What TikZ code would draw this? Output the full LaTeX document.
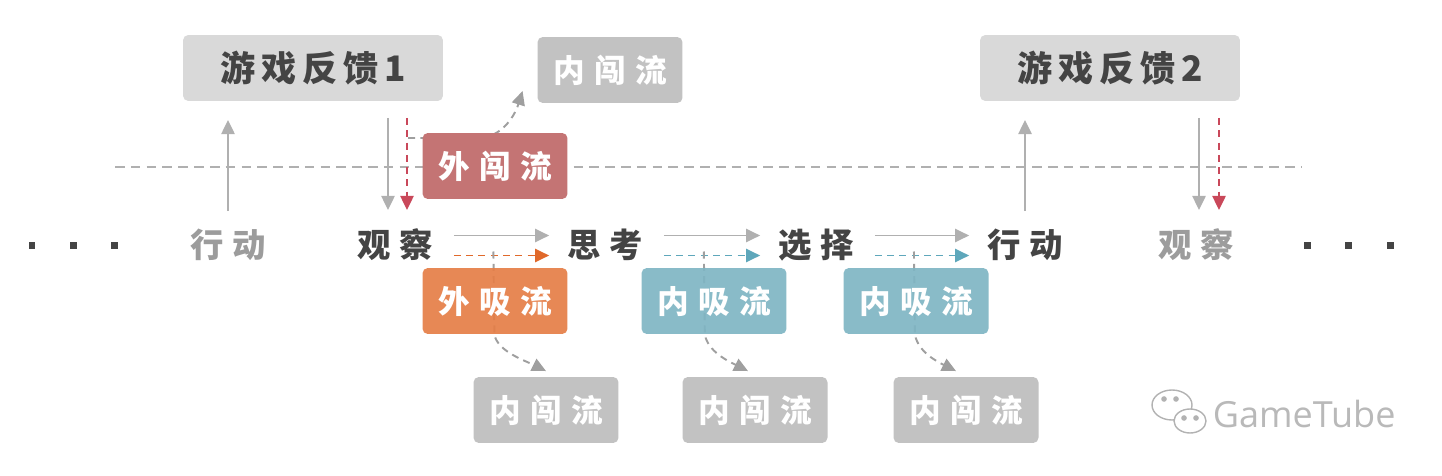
\documentclass[tikz,border=0pt]{standalone}
\usepackage{fontspec}
\usepackage{tikz}
\usetikzlibrary{arrows.meta, positioning, calc}
\newfontfamily\cjk{Noto Sans CJK SC}
\newfontfamily\wmfont{Open Sans}
\definecolor{fbgray}{HTML}{D9D9D9}
\definecolor{chgray}{HTML}{C2C2C2}
\definecolor{wcred}{HTML}{C47474}
\definecolor{wxorange}{HTML}{E57E47}
\definecolor{nxteal}{HTML}{7FB5C3}
\definecolor{txtdark}{HTML}{444444}
\definecolor{txtlight}{HTML}{9C9C9C}
\definecolor{lngray}{HTML}{B0B0B0}
\definecolor{arrred}{HTML}{C9485A}
\definecolor{arrorange}{HTML}{E0692B}
\definecolor{arrteal}{HTML}{5EA7BB}

\begin{document}
\begin{tikzpicture}[x=0.02cm, y=-0.02cm, line width=1.1pt,
    >={Triangle[length=8pt,width=7.5pt]},
    fbbox/.style={fill=fbgray, rounded corners=3pt, minimum width=5.2cm, minimum height=1.32cm,
        text=txtdark, font=\cjk\bfseries\fontsize{20}{24}\selectfont\addfontfeature{LetterSpace=17}},
    flowbox/.style={fill=#1, rounded corners=3pt, minimum width=2.9cm, minimum height=1.32cm,
        text=white, font=\cjk\bfseries\fontsize{18}{21}\selectfont\addfontfeature{LetterSpace=30}},
    word/.style={text=#1, inner sep=0pt, font=\cjk\bfseries\fontsize{19}{22}\selectfont\addfontfeature{LetterSpace=27}},
    dot/.style={fill=txtdark, minimum size=0.14cm, inner sep=0pt},
    solidarr/.style={->, lngray},
    dasharr/.style={->, #1, dash pattern=on 4pt off 3pt},
    flowline/.style={->, gray!75, dash pattern=on 4pt off 3pt}]
\useasboundingbox (0,0) rectangle (1442,476);

% divider
\draw[lngray, dash pattern=on 5.5pt off 3.5pt] (115,167) -- (1302,167);

% feedback boxes
\node[fbbox] (fb1) at (313,68) {游戏反馈1};
\node[fbbox] (fb2) at (1110,68) {游戏反馈2};
\node[flowbox=chgray] (chtop) at (610,70) {内闯流};

% loop words
\node[word=txtlight] (act1) at (228,245) {行动};
\node[word=txtdark] (obs1) at (395,245) {观察};
\node[word=txtdark] (think) at (605,245) {思考};
\node[word=txtdark] (choose) at (816,245) {选择};
\node[word=txtdark] (act2) at (1025,245) {行动};
\node[word=txtlight] (obs2) at (1196,245) {观察};
\foreach \x in {32,73,114,1307,1348,1390}
    \node[dot] (d\x) at (\x,245) {};

% up / down arrows
\draw[solidarr, shorten <=0.34cm, shorten >=0.36cm] (act1.north) -- (act1.north |- fb1.south);
\draw[solidarr, shorten <=0.32cm, shorten >=0.36cm] ([xshift=-0.14cm]obs1.north |- fb1.south) -- ([xshift=-0.14cm]obs1.north);
\draw[dasharr=arrred, shorten <=0.32cm, shorten >=0.36cm] ([xshift=0.24cm]obs1.north |- fb1.south) -- ([xshift=0.24cm]obs1.north);
\draw[solidarr, shorten <=0.34cm, shorten >=0.36cm] (act2.north) -- (act2.north |- fb2.south);
\draw[solidarr, shorten <=0.32cm, shorten >=0.36cm] ([xshift=0.06cm]obs2.north |- fb2.south) -- ([xshift=0.06cm]obs2.north);
\draw[dasharr=arrred, shorten <=0.32cm, shorten >=0.36cm] ([xshift=0.46cm]obs2.north |- fb2.south) -- ([xshift=0.46cm]obs2.north);

% external stray flow
\coordinate (wcstart) at (408,138);
\draw[flowline] (wcstart) -- (478,138) .. controls (500,138) and (514,118) .. ([shift={(-0.28cm,0.26cm)}]chtop.south west);
\node[flowbox=wcred] (wc) at (495,166) {外闯流};

% horizontal arrows
\draw[solidarr, shorten <=0.4cm, shorten >=0.34cm] ([yshift=0.19cm]obs1.east) -- ([yshift=0.19cm]think.west);
\draw[dasharr=arrorange, shorten <=0.4cm, shorten >=0.34cm] ([yshift=-0.21cm]obs1.east) -- ([yshift=-0.21cm]think.west) coordinate[pos=0.45] (t1);
\draw[solidarr, shorten <=0.4cm, shorten >=0.34cm] ([yshift=0.19cm]think.east) -- ([yshift=0.19cm]choose.west);
\draw[dasharr=arrteal, shorten <=0.4cm, shorten >=0.34cm] ([yshift=-0.21cm]think.east) -- ([yshift=-0.21cm]choose.west) coordinate[pos=0.45] (t2);
\draw[solidarr, shorten <=0.4cm, shorten >=0.34cm] ([yshift=0.19cm]choose.east) -- ([yshift=0.19cm]act2.west);
\draw[dasharr=arrteal, shorten <=0.4cm, shorten >=0.34cm] ([yshift=-0.21cm]choose.east) -- ([yshift=-0.21cm]act2.west) coordinate[pos=0.45] (t3);

% absorb flows and their stray outcomes
\node[flowbox=chgray] (chb1) at (546,410) {内闯流};
\node[flowbox=chgray] (chb2) at (755,410) {内闯流};
\node[flowbox=chgray] (chb3) at (966,410) {内闯流};
\draw[flowline] ([yshift=0.08cm]t1) -- ++(1,83) .. controls +(3,17) and +(-20,-10) .. ([yshift=0.1cm]chb1.north);
\draw[flowline] ([yshift=0.08cm]t2) -- ++(1,83) .. controls +(3,17) and +(-20,-10) .. ([xshift=-0.14cm,yshift=0.1cm]chb2.north);
\draw[flowline] ([yshift=0.08cm]t3) -- ++(1,83) .. controls +(3,17) and +(-20,-10) .. ([xshift=-0.2cm,yshift=0.1cm]chb3.north);
\node[flowbox=wxorange, fill opacity=0.92, text opacity=1] (wx) at (495,301) {外吸流};
\node[flowbox=nxteal, fill opacity=0.92, text opacity=1] (nx1) at (714,301) {内吸流};
\node[flowbox=nxteal, fill opacity=0.92, text opacity=1] (nx2) at (916,301) {内吸流};

% watermark
\draw[gray!60, line width=0.8pt] (1172,405) ellipse (20 and 15);
\draw[gray!60, line width=0.8pt, fill=white] (1190,421) ellipse (16 and 12);
\foreach \ex/\ey in {1164/399,1176/399,1184/418,1196/418}
    \fill[gray!60] (\ex,\ey) circle (1.6pt);
\node[text=gray!55, font=\wmfont\fontsize{20.5}{24}\selectfont, anchor=west, inner sep=0pt] (wm) at (1212,414) {GameTube};
\end{tikzpicture}
\end{document}
